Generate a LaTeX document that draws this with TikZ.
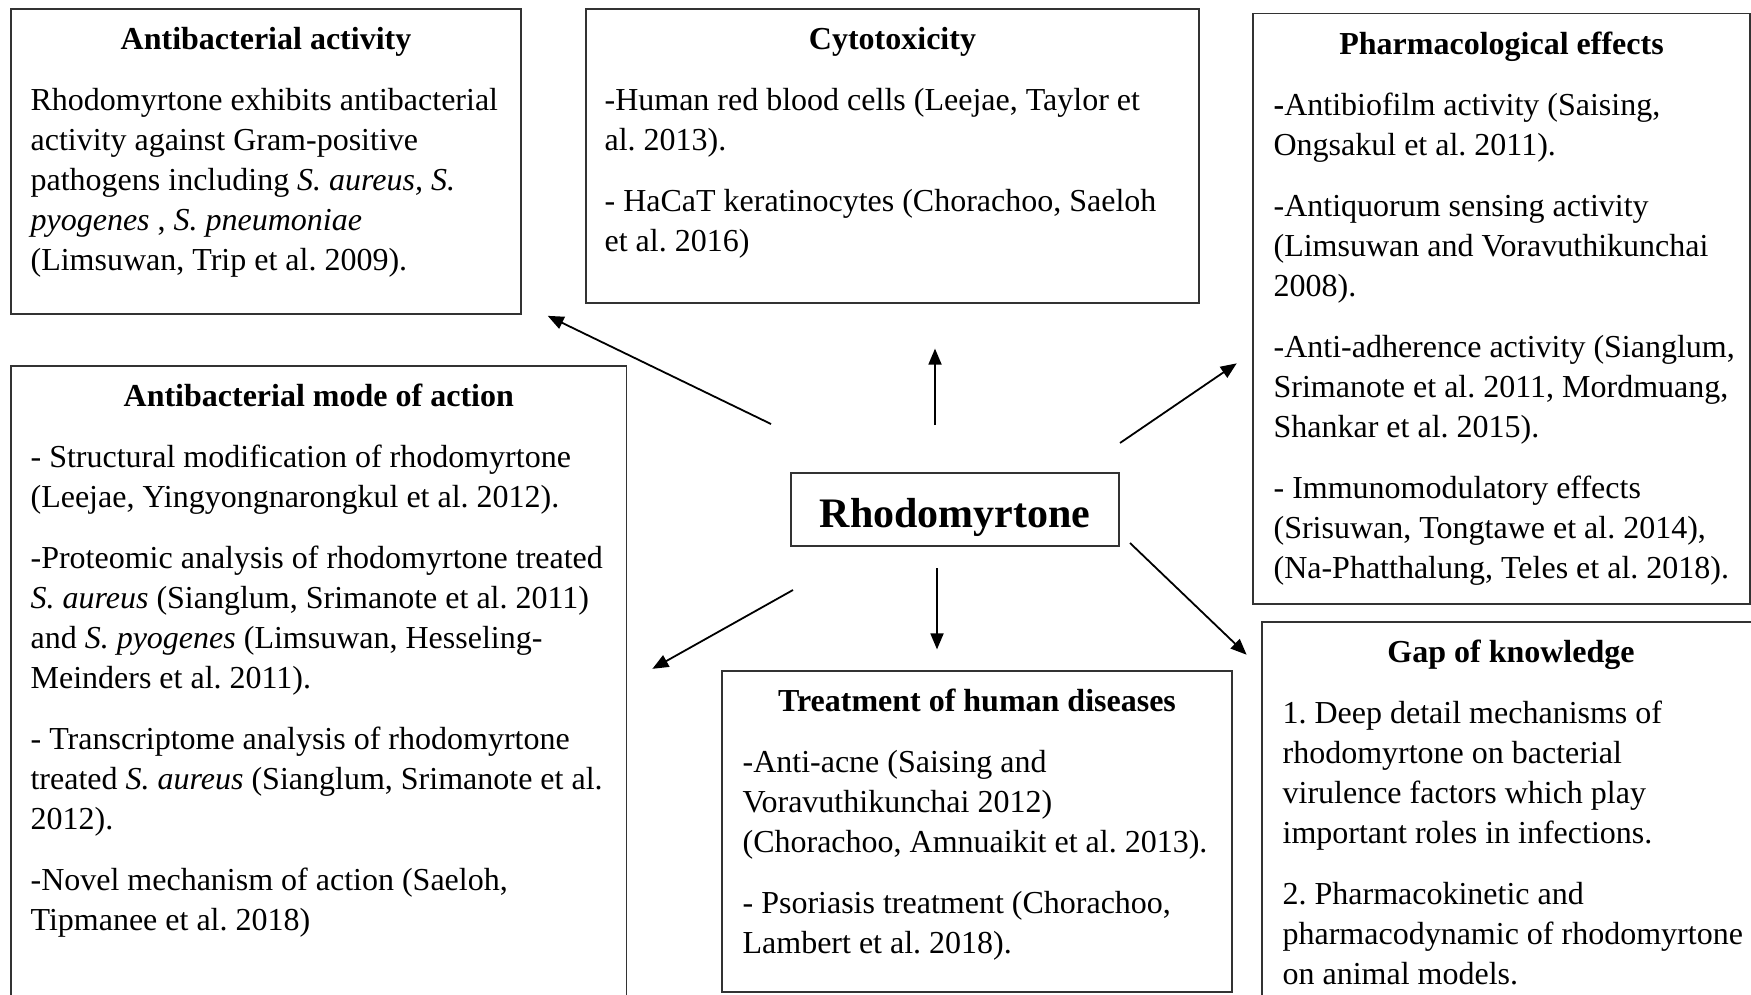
\documentclass[tikz,border=0pt]{standalone}
\usepackage{fontspec}
\setmainfont{Liberation Serif}
\usetikzlibrary{positioning,arrows.meta}
\frenchspacing

\begin{document}
\begin{tikzpicture}[x=1pt,y=-1pt,
  box/.style={draw=black!80,line width=1.2pt,rectangle,inner sep=0pt},
  ttl/.style={anchor=base,yshift=-41.5pt,font=\bfseries\fontsize{32}{40}\selectfont},
  txt/.style={align=left,inner sep=0pt,font=\fontsize{32}{40}\selectfont},
  arr/.style={-{Triangle[length=16pt,width=13pt]},line width=1.8pt}]
\useasboundingbox (0,0) rectangle (1751,995);
% Rhodomyrtone
\node[box, minimum width=328pt, minimum height=73pt, text height=36pt, text depth=0pt, font=\bfseries\fontsize{42}{50}\selectfont] (rhodo) at (955,509.5) {Rhodomyrtone};
% Antibacterial activity
\node[box, minimum width=510pt, minimum height=305pt, label={[ttl]north:Antibacterial activity}] (act) at (266,161.5) {};
\node[txt, below right=74pt and 20pt of act.north west] (act-txt) {\strut Rhodomyrtone exhibits antibacterial\\
activity against Gram-positive\\
pathogens including \textit{S. aureus, S.}\\
\textit{pyogenes} , \textit{S. pneumoniae}\\
(Limsuwan, Trip et al. 2009).};
% Cytotoxicity
\node[box, minimum width=613pt, minimum height=294pt, label={[ttl]north:Cytotoxicity}] (cyto) at (892.5,156) {};
\node[txt, below right=74pt and 19pt of cyto.north west] (cyto-txt) {\strut -Human red blood cells (Leejae, Taylor et\\
al. 2013).\\[21pt]
- HaCaT keratinocytes (Chorachoo, Saeloh\\
et al. 2016)};
% Pharmacological effects
\node[box, minimum width=497pt, minimum height=590.6pt, label={[ttl]north:Pharmacological effects}] (pharm) at (1501.5,308.7) {};
\node[txt, below right=74pt and 21pt of pharm.north west] (pharm-txt) {\strut\textbf{-}Antibiofilm activity (Saising,\\
Ongsakul et al. 2011).\\[21pt]
-Antiquorum sensing activity\\
(Limsuwan and Voravuthikunchai\\
2008).\\[21pt]
-Anti-adherence activity (Sianglum,\\
Srimanote et al. 2011, Mordmuang,\\
Shankar et al. 2015).\\[21pt]
- Immunomodulatory effects\\
(Srisuwan, Tongtawe et al. 2014),\\
(Na-Phatthalung, Teles et al. 2018).};
% Antibacterial mode of action
\node[box, minimum width=615.5pt, minimum height=634pt, label={[ttl]north:Antibacterial mode of action}] (mode) at (318.75,683) {};
\node[txt, below right=74pt and 20pt of mode.north west] (mode-txt) {\strut - Structural modification of rhodomyrtone\\
(Leejae, Yingyongnarongkul et al. 2012).\\[21pt]
-Proteomic analysis of rhodomyrtone treated\\
\textit{S. aureus} (Sianglum, Srimanote et al. 2011)\\
and \textit{S. pyogenes} (Limsuwan, Hesseling-\\
Meinders et al. 2011).\\[21pt]
- Transcriptome analysis of rhodomyrtone\\
treated \textit{S. aureus} (Sianglum, Srimanote et al.\\
2012).\\[21pt]
-Novel mechanism of action (Saeloh,\\
Tipmanee et al. 2018)};
% Treatment of human diseases
\node[box, minimum width=510pt, minimum height=321pt, label={[ttl]north:Treatment of human diseases}] (treat) at (977,831.5) {};
\node[txt, below right=74pt and 21pt of treat.north west] (treat-txt) {\strut -Anti-acne (Saising and\\
Voravuthikunchai 2012)\\
(Chorachoo, Amnuaikit et al. 2013).\\[21pt]
- Psoriasis treatment (Chorachoo,\\
Lambert et al. 2018).};
% Gap of knowledge
\node[box, minimum width=498pt, minimum height=418pt, label={[ttl]north:Gap of knowledge}] (gap) at (1511,831) {};
\node[txt, below right=73.5pt and 21pt of gap.north west] (gap-txt) {\strut 1. Deep detail mechanisms of\\
rhodomyrtone on bacterial\\
virulence factors which play\\
important roles in infections.\\[21pt]
2. Pharmacokinetic and\\
pharmacodynamic of rhodomyrtone\\
on animal models.};
% Arrows
\coordinate (t-act) at (771,424);
\coordinate (t-cyto) at (935,425);
\coordinate (t-pharm) at (1120,443);
\coordinate (t-mode) at (793,590);
\coordinate (t-treat) at (937,568);
\coordinate (t-gap) at (1130,543);
\draw[arr, shorten >=29pt] (t-act) -- (act.331);
\draw[arr, shorten >=45pt] (t-cyto) -- (t-cyto |- cyto.south);
\draw[arr, shorten >=19pt] (t-pharm) -- (pharm.190);
\draw[arr, shorten >=29pt] (t-mode) -- (mode.east);
\draw[arr, shorten >=21pt] (t-treat) -- (t-treat |- treat.north);
\draw[arr, shorten >=20.5pt] (t-gap) -- (gap.147);
\end{tikzpicture}
\end{document}
